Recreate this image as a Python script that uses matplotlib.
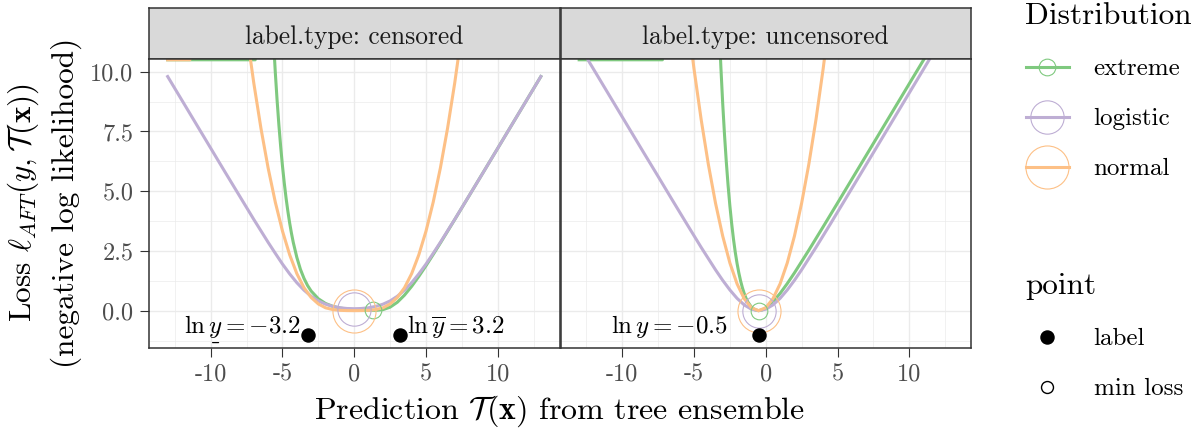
import numpy as np
import matplotlib
matplotlib.use("Agg")
import matplotlib.pyplot as plt
from matplotlib.lines import Line2D
from matplotlib.mathtext import MathTextParser

# font mirip LaTeX (Computer Modern)
plt.rcParams['font.family'] = 'cmr10'
plt.rcParams['mathtext.fontset'] = 'cm'
plt.rcParams['axes.unicode_minus'] = False
plt.rcParams['axes.formatter.use_mathtext'] = True

inf = np.inf

# data: loss per distribusi (Inf = digambar di tepi atas panel)
distribusi = ['extreme', 'logistic', 'normal']
warna = {'extreme': '#7FC97F', 'logistic': '#BEAED4', 'normal': '#FDC086'}
ukuran_min = {'extreme': 12, 'logistic': 24, 'normal': 31}

# panel censored, interval [ln y_bawah, ln y_atas] = [-3.2, 3.2]
cens_extreme_x = [-13, -6.9, -6.8, -6, -5.75, -5.625, -5.5, -5.375, -5.25, -5.125, -5,
                  -4.875, -4.75, -4.625, -4.5, -4.375, -4.25, -4, -3.75, -3.5, -3.25, -3,
                  -2.5, -2, -1.5, -1, -0.5, 0, 0.5, 1, 1.5, 2, 2.5, 3, 3.5, 4, 4.5, 5,
                  5.5, 6, 7, 8, 9, 10, 11, 12, 13]
cens_extreme_y = [inf, inf, 36.6, 16.44, 12.81, 11.30, 9.97, 8.80, 7.77, 6.86, 6.05,
                  5.34, 4.71, 4.16, 3.67, 3.24, 2.86, 2.23, 1.73, 1.35, 1.05, 0.819,
                  0.497, 0.301, 0.183, 0.111, 0.067, 0.041, 0.025, 0.015, 0.013, 0.043,
                  0.147, 0.352, 0.650, 1.018, 1.435, 1.883, 2.351, 2.832, 3.813, 4.806,
                  5.803, 6.80, 7.80, 8.80, 9.80]
cens_logistic_x = [-13, -12, -11, -10, -9, -8, -7, -6.5, -6, -5.5, -5, -4.5, -4, -3.5, -3,
                   -2.5, -2, -1.5, -1, -0.5, 0, 0.5, 1, 1.5, 2, 2.5, 3, 3.5, 4, 4.5, 5,
                   5.5, 6, 6.5, 7, 8, 9, 10, 11, 12, 13]
cens_logistic_y = [9.80, 8.80, 7.80, 6.80, 5.80, 4.81, 3.82, 3.34, 2.86, 2.40, 1.95, 1.54,
                   1.17, 0.857, 0.602, 0.408, 0.271, 0.179, 0.122, 0.091, 0.082, 0.091,
                   0.122, 0.179, 0.271, 0.408, 0.602, 0.857, 1.17, 1.54, 1.95, 2.40, 2.86,
                   3.34, 3.82, 4.81, 5.80, 6.80, 7.80, 8.80, 9.80]
cens_normal_x = [-13, -11.45, -11.3, -9, -8, -7.5, -7, -6.5, -6, -5.5, -5, -4.5, -4, -3.5,
                 -3, -2.5, -2, -1.5, -1, -0.5, 0, 0.5, 1, 1.5, 2, 2.5, 3, 3.5, 4, 4.5, 5,
                 5.5, 6, 6.5, 7, 7.5, 8]
cens_normal_y = [inf, inf, 35.8, 19.5, 14.05, 11.67, 9.53, 7.63, 5.97, 4.54, 3.33, 2.34,
                 1.55, 0.96, 0.55, 0.28, 0.12, 0.046, 0.014, 0.004, 0.001, 0.004, 0.014,
                 0.046, 0.12, 0.28, 0.55, 0.96, 1.55, 2.34, 3.33, 4.54, 5.97, 7.63, 9.53,
                 11.67, 14.05]

# panel uncensored, ln y = -0.5
unc_extreme_x = [-13, -7.2, -7, -3.5, -3.25, -3.125, -3, -2.875, -2.75, -2.625, -2.5,
                 -2.375, -2.25, -2.125, -2, -1.875, -1.75, -1.625, -1.5, -1.375, -1.25,
                 -1, -0.75, -0.5, -0.25, 0, 0.5, 1, 1.5, 2, 3, 4, 5, 6, 8, 10, 11, 12, 13]
unc_extreme_y = [inf, inf, 658, 16.09, 11.89, 10.18, 8.68, 7.38, 6.24, 5.25, 4.39, 3.65,
                 3.00, 2.45, 1.98, 1.58, 1.24, 0.955, 0.718, 0.524, 0.367, 0.149, 0.034,
                 0, 0.029, 0.107, 0.368, 0.723, 1.135, 1.582, 2.530, 3.511, 4.504, 5.502,
                 7.500, 9.500, 10.50, 11.50, 12.50]
unc_logistic_x = [-13, -12.5, -10.5, -8.5, -7.5, -6.5, -5.5, -4.5, -3.5, -3, -2.5, -2,
                  -1.5, -1, -0.5, 0, 0.5, 1, 1.5, 2, 2.5, 3.5, 4.5, 5.5, 6.5, 7.5, 9.5,
                  11.5, 12, 13]
unc_logistic_y = [11.11, 10.61, 8.61, 6.61, 5.62, 4.62, 3.63, 2.65, 1.71, 1.27, 0.868,
                  0.517, 0.240, 0.062, 0, 0.062, 0.240, 0.517, 0.868, 1.271, 1.711, 2.650,
                  3.627, 4.619, 5.616, 6.614, 8.614, 10.614, 11.11, 12.11]
unc_normal_x = [-5.5, -5, -4.5, -4, -3.5, -3, -2.5, -2, -1.5, -1, -0.5, 0, 0.5, 1, 1.5,
                2, 2.5, 3, 3.5, 4, 4.5]
unc_normal_y = [12.5, 10.125, 8, 6.125, 4.5, 3.125, 2, 1.125, 0.5, 0.125, 0, 0.125, 0.5,
                1.125, 2, 3.125, 4.5, 6.125, 8, 10.125, 12.5]

# titik loss minimum per distribusi
cens_min = {'extreme': (1.28, 0.012), 'logistic': (0, 0.082), 'normal': (0, 0.001)}
unc_min = {'extreme': (-0.5, 0), 'logistic': (-0.5, 0), 'normal': (-0.5, 0)}

# titik label (y = -1)
cens_label_x = [-3.2, 3.2]
unc_label_x = [-0.5]
label_y = -1

# cek apakah mathtext kenal \underline
try:
    MathTextParser('agg').parse(r'$\underline{y}$', dpi=100)
    y_bawah = r'\underline{y}'
except Exception:
    y_bawah = r'\underset{\_}{y}'

cens_teks = [(-3.73, -0.95, r'$\ln ' + y_bawah + r' = -3.2$', 'right'),
             (3.69, -0.95, r'$\ln \overline{y} = 3.2$', 'left')]
unc_teks = [(-2.6, -0.95, r'$\ln y = -0.5$', 'right')]

XLIM = (-14.3, 14.3)
YLIM = (-1.55, 10.55)
Y_INF = YLIM[1] - 0.05  # posisi garis Inf, sedikit di bawah tepi atas
W, H = 1197, 429

fig = plt.figure(figsize=(W / 100, H / 100), dpi=100)


def kotak(x0, y0, x1, y1):
    # posisi axes dalam piksel -> fraksi figure
    return [x0 / W, 1 - y1 / H, (x1 - x0) / W, (y1 - y0) / H]


st1 = fig.add_axes(kotak(149, 7.5, 559.5, 58.6))
st2 = fig.add_axes(kotak(560.5, 7.5, 971, 58.6))
ax1 = fig.add_axes(kotak(149, 58.6, 559.5, 347.7))
ax2 = fig.add_axes(kotak(560.5, 58.6, 971, 347.7))


def gambar_panel(ax, kurva, titik_min, label_x, teks):
    for nama in distribusi:
        x, y = kurva[nama]
        y = np.array(y, dtype=float)
        y = np.where(np.isinf(y), Y_INF, y)  # Inf ditaruh di tepi atas
        ax.plot(x, y, color=warna[nama], lw=2.2, zorder=2)
    for nama in distribusi:
        mx, my = titik_min[nama]
        ax.plot([mx], [my], 'o', ms=ukuran_min[nama], mfc='none',
                mec=warna[nama], mew=0.8, zorder=3)
    ax.plot(label_x, [label_y] * len(label_x), 'o', color='black', ms=9.4, zorder=4)
    for tx, ty, s, ha in teks:
        ax.text(tx, ty, s, ha=ha, va='baseline', fontsize=18, color='black', zorder=5)

    ax.set_xlim(XLIM)
    ax.set_ylim(YLIM)
    ax.set_xticks([-10, -5, 0, 5, 10])
    ax.set_xticklabels(['-10', '-5', '0', '5', '10'])
    ax.set_xticks([-12.5, -7.5, -2.5, 2.5, 7.5, 12.5], minor=True)
    ax.set_yticks([0, 2.5, 5, 7.5, 10])
    ax.set_yticklabels(['0.0', '2.5', '5.0', '7.5', '10.0'])
    ax.set_yticks([-1.25, 1.25, 3.75, 6.25, 8.75], minor=True)
    ax.grid(which='major', color='#EBEBEB', lw=1.0)
    ax.grid(which='minor', color='#EBEBEB', lw=0.5)
    ax.set_axisbelow(True)
    ax.tick_params(which='minor', length=0)
    ax.tick_params(which='major', direction='out', length=6.2, width=0.8,
                   color='#333333', labelsize=17.5, labelcolor='#4D4D4D', pad=5)
    for s in ax.spines.values():
        s.set_color('#333333')
        s.set_linewidth(1.1)
        s.set_zorder(6)


gambar_panel(ax1,
             {'extreme': (cens_extreme_x, cens_extreme_y),
              'logistic': (cens_logistic_x, cens_logistic_y),
              'normal': (cens_normal_x, cens_normal_y)},
             cens_min, cens_label_x, cens_teks)
gambar_panel(ax2,
             {'extreme': (unc_extreme_x, unc_extreme_y),
              'logistic': (unc_logistic_x, unc_logistic_y),
              'normal': (unc_normal_x, unc_normal_y)},
             unc_min, unc_label_x, unc_teks)
ax2.tick_params(axis='y', which='both', length=0, labelleft=False)

# strip judul facet
for st, judul in ((st1, 'label.type: censored'), (st2, 'label.type: uncensored')):
    st.set_facecolor('#D9D9D9')
    st.set_xticks([])
    st.set_yticks([])
    for s in st.spines.values():
        s.set_color('#333333')
        s.set_linewidth(1.1)
    st.text(0.5, 0.42, judul, ha='center', va='center', fontsize=18.3,
            color='#1A1A1A', transform=st.transAxes)

# judul sumbu
fig.text(559.5 / W, 1 - 411 / H, r'Prediction $\mathcal{T}(\mathbf{x})$ from tree ensemble',
         ha='center', va='center', fontsize=23)
fig.text(23 / W, 1 - 203 / H, r'Loss $\ell_{AFT}(y, \mathcal{T}(\mathbf{x}))$',
         ha='center', va='center', rotation=90, fontsize=22.5)
fig.text(66 / W, 1 - 203 / H, '(negative log likelihood)',
         ha='center', va='center', rotation=90, fontsize=22.5)

# legenda
h1 = [Line2D([], [], color=warna[d], lw=2.2, marker='o', ms=ukuran_min[d],
             mfc='none', mec=warna[d], mew=0.8) for d in distribusi]
fig.legend(h1, distribusi, title='Distribution', loc='upper left',
           bbox_to_anchor=(1023 / W, 1 - 0 / H), frameon=False, fontsize=18,
           title_fontsize=22.5, handlelength=1.72, handletextpad=1.0,
           labelspacing=1.1, borderaxespad=0, borderpad=0.1, alignment='left')
h2 = [Line2D([], [], ls='none', marker='o', color='black', ms=9.4),
      Line2D([], [], ls='none', marker='o', mfc='white', mec='black', mew=1.0, ms=8.6)]
fig.legend(h2, ['label', 'min loss'], title='point', loc='upper left',
           bbox_to_anchor=(1023 / W, 1 - 270 / H), frameon=False, fontsize=18,
           title_fontsize=22.5, handlelength=1.72, handletextpad=1.0,
           labelspacing=1.1, borderaxespad=0, borderpad=0.1, alignment='left')

fig.savefig('out.png', dpi=100)
